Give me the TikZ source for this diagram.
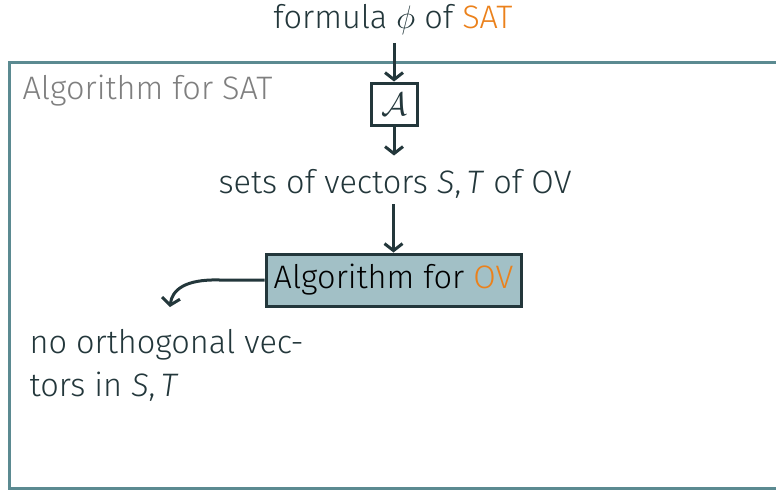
\documentclass[tikz,border=0pt]{standalone}
\usepackage{fix-cm}
\usepackage{fontspec}
\setmainfont{Fira Sans}[UprightFont={* Light},ItalicFont={* Light Italic}]
\usetikzlibrary{arrows.meta,positioning}
\definecolor{dteal}{HTML}{23373B}
\definecolor{morange}{HTML}{EB811B}
\definecolor{frameteal}{HTML}{5B8A91}
\definecolor{boxfill}{HTML}{A2C0C6}
\definecolor{labgray}{HTML}{7F7F7F}
\begin{document}
\begin{tikzpicture}[x=1pt,y=-1pt,
  every node/.style={font=\fontsize{32.5}{44}\selectfont, text=dteal},
  flow/.style={draw=dteal, line width=3pt, -{Straight Barb[length=7pt,width=18pt,line width=3pt]}},
  algbox/.style={draw=dteal, line width=3pt, inner sep=0pt},
]
\useasboundingbox (0,0) rectangle (776,490);
% outer frame of the SAT algorithm
\draw[frameteal, line width=3pt] (790,62) -- (9.5,62) -- (9.5,488.5) -- (790,488.5);
\node[anchor=west, text=labgray] (title) at (19,91) {Algorithm for SAT};

\node (input) at (393,20) {formula $\phi$ of \textcolor{morange}{SAT}};
\node[algbox, minimum width=46pt, minimum height=42pt] (A) at (394,104) {$\mathcal{A}$};
\node (sets) at (395,184) {sets of vectors \textit{S},\,\textit{T} of OV};
\node[algbox, fill=boxfill, minimum width=255pt, minimum height=52pt, text=black] (ov) at (393.5,280) {Algorithm for \textcolor{morange}{OV}};
\node[anchor=north west, align=left, font=\fontsize{32.5}{43}\selectfont] (res) at (26,326) {no orthogonal vec-\\tors in \textit{S},\,\textit{T}};
\coordinate (tip) at (170,307);

\draw[flow] (input.south -| A.north) ++(0,4) coordinate (s1) -- (A.north);
\draw[flow] (A.south) -- ++(0,29) coordinate (e2);
\draw[flow] (sets.south -| ov.north) ++(0,2) -- (ov.north);
\draw[flow] (ov.west) -- ++(-45,0) .. controls (185,279) and (172,290) .. (tip);
\end{tikzpicture}
\end{document}
